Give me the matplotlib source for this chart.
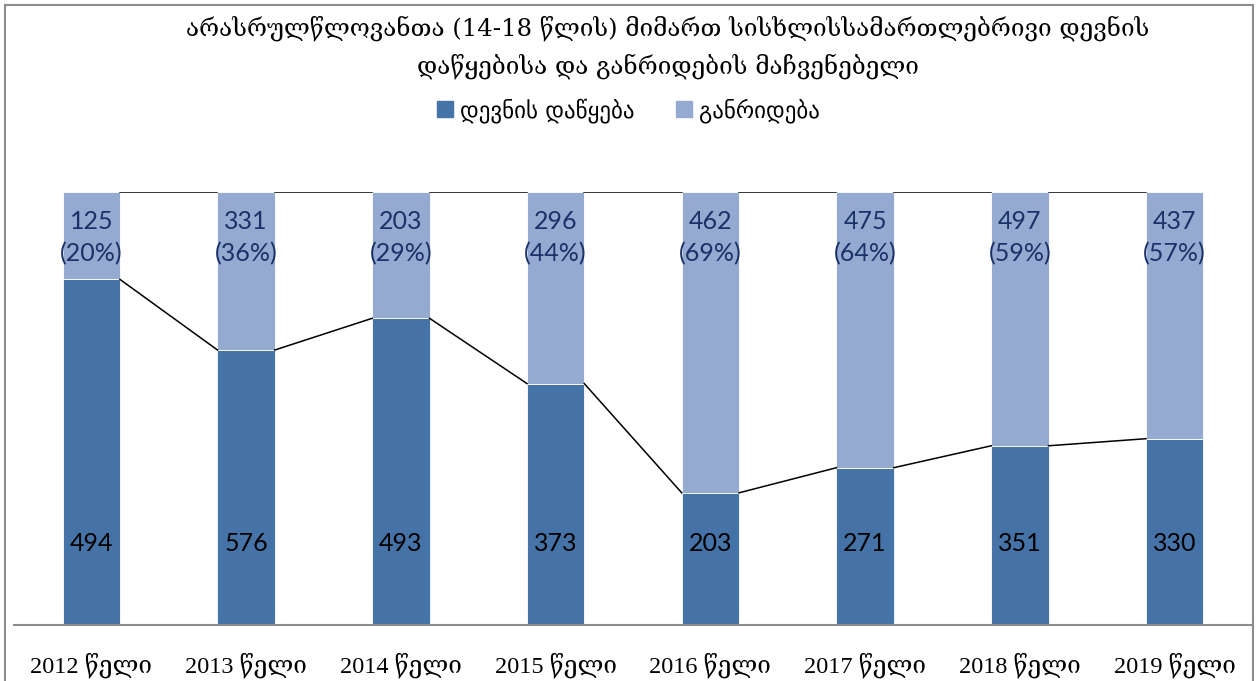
import numpy as np
import matplotlib.pyplot as plt
from matplotlib.patches import Rectangle

# data
years = ["2012 წელი", "2013 წელი", "2014 წელი", "2015 წელი",
         "2016 წელი", "2017 წელი", "2018 წელი", "2019 წელი"]
started = [494, 576, 493, 373, 203, 271, 351, 330]
diverted = [125, 331, 203, 296, 462, 475, 497, 437]
series_names = ["დევნის დაწყება", "განრიდება"]
title = "არასრულწლოვანთა (14-18 წლის) მიმართ სისხლისსამართლებრივი დევნის\nდაწყებისა და განრიდების მაჩვენებელი"

dark = "#4673A7"
light = "#95AAD0"
label_col = "#1B3268"

started = np.array(started, dtype=float)
diverted = np.array(diverted, dtype=float)
total = started + diverted
p_start = started / total * 100
p_div = diverted / total * 100

fig = plt.figure(figsize=(12.57, 6.81), dpi=100)
ax = fig.add_axes([14 / 1257, 56 / 681, 1238 / 1257, 433 / 681])

x = np.arange(len(years))
w = 0.37
ax.bar(x, p_start, w, color=dark, edgecolor="white", linewidth=0.6)
ax.bar(x, p_div, w, bottom=p_start, color=light, edgecolor="white", linewidth=0.6)

# series lines like excel
for i in range(len(x) - 1):
    ax.plot([x[i] + w / 2, x[i + 1] - w / 2], [p_start[i], p_start[i + 1]],
            color="black", lw=1.1)
    ax.plot([x[i] + w / 2, x[i + 1] - w / 2], [100, 100], color="black", lw=1.1)

# labels
sans = ["Lato", "DejaVu Sans"]
for i in range(len(x)):
    ax.text(x[i], 18.8, "%d" % started[i], ha="center", va="center",
            fontsize=18, color="black", family=sans)
    ax.text(x[i], 89.5, "%d\n(%d%%)" % (diverted[i], round(p_div[i])),
            ha="center", va="center", fontsize=18, color=label_col,
            family=sans, linespacing=1.45)

ax.set_xlim(-0.5, len(x) - 0.5)
ax.set_ylim(0, 100)
ax.set_yticks([])
ax.set_xticks(x)
ax.set_xticklabels(years, family=["Liberation Serif", "DejaVu Serif"], fontsize=17.5)
ax.tick_params(axis="x", length=0, pad=20)
for s in ["top", "right", "left"]:
    ax.spines[s].set_visible(False)
ax.spines["bottom"].set_color("#8C8C8C")
ax.spines["bottom"].set_linewidth(1.5)

fig.text(0.531, 0.977, title, ha="center", va="top", fontsize=17.5,
         family=["DejaVu Serif"], linespacing=1.6)

# legend
handles = [Rectangle((0, 0), 1, 1, color=dark), Rectangle((0, 0), 1, 1, color=light)]
fig.legend(handles, series_names, loc="center", bbox_to_anchor=(0.5, 0.838),
           ncol=2, frameon=False, prop={"family": ["DejaVu Sans"], "size": 16.5},
           handlelength=0.7, handleheight=0.7, handletextpad=0.3, columnspacing=1.8)

# outer frame
fig.patches.append(Rectangle((5 / 1257, -0.01), 1248 / 1257, 1 - 5 / 681 + 0.01,
                             transform=fig.transFigure, fill=False,
                             edgecolor="#8C8C8C", linewidth=1.5))

plt.savefig("out.png")
